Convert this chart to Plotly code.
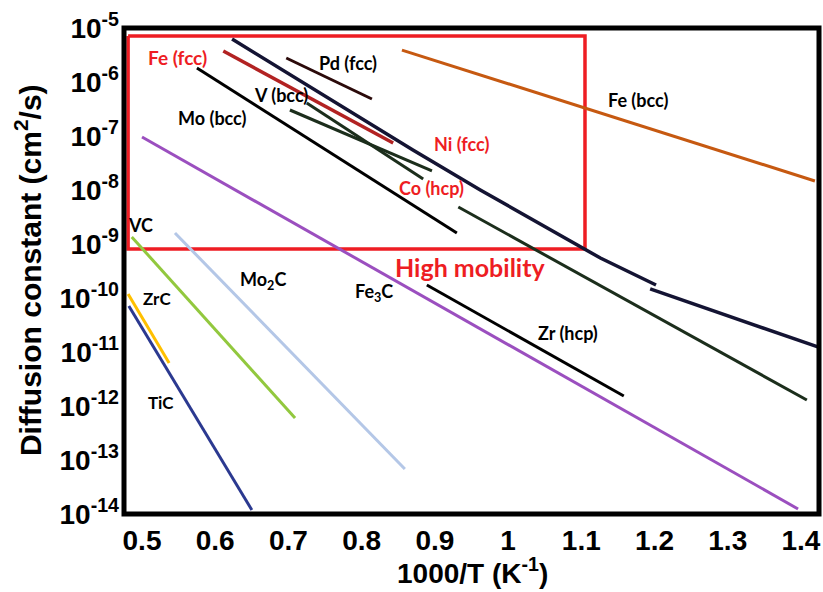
import plotly.graph_objects as go

# ---- data ----
fe_bcc_x = [0.855, 1.419]
fe_bcc_y = [3.9e-6, 1.47e-8]
ni_fcc_x = [0.623, 0.870, 0.962, 1.126, 1.202]
ni_fcc_y = [6.25e-6, 5.5e-8, 1.0e-8, 5.5e-10, 1.74e-10]
ni_fcc2_x = [1.194, 1.423]
ni_fcc2_y = [1.47e-10, 1.24e-11]
fe_fcc_x = [0.611, 0.843]
fe_fcc_y = [3.75e-6, 7.4e-8]
pd_fcc_x = [0.697, 0.814]
pd_fcc_y = [2.78e-6, 4.84e-7]
mo_bcc_x = [0.575, 0.930]
mo_bcc_y = [1.82e-6, 1.6e-9]
v_bcc_x = [0.725, 0.884]
v_bcc_y = [4.1e-7, 1.6e-8]
co_hcp_x = [0.702, 0.896]
co_hcp_y = [3.03e-7, 2.25e-8]
co_hcp2_x = [0.932, 1.408]
co_hcp2_y = [4.84e-9, 1.29e-12]
zr_hcp_x = [0.889, 1.158]
zr_hcp_y = [1.74e-10, 1.53e-12]
fe3c_x = [0.500, 1.396]
fe3c_y = [9.57e-8, 1.24e-14]
vc_x = [0.486, 0.709]
vc_y = [1.35e-9, 6.0e-13]
mo2c_x = [0.545, 0.859]
mo2c_y = [1.6e-9, 6.8e-14]
zrc_x = [0.481, 0.537]
zrc_y = [1.19e-10, 6.25e-12]
tic_x = [0.482, 0.650]
tic_y = [7.1e-11, 1.19e-14]

box_x = [0.481, 1.105]
box_y = [7.1e-6, 8.07e-10]

x_ticks = [0.5, 0.6, 0.7, 0.8, 0.9, 1.0, 1.1, 1.2, 1.3, 1.4]
x_ticktext = ["0.5", "0.6", "0.7", "0.8", "0.9", "1", "1.1", "1.2", "1.3", "1.4"]
y_exps = [-5, -6, -7, -8, -9, -10, -11, -12, -13, -14]

series = [
    ("Mo<sub>2</sub>C", mo2c_x, mo2c_y, "#B4C7E7", 3),
    ("VC", vc_x, vc_y, "#92C83E", 3),
    ("ZrC", zrc_x, zrc_y, "#FFC000", 3),
    ("TiC", tic_x, tic_y, "#2B3990", 3),
    ("Fe<sub>3</sub>C", fe3c_x, fe3c_y, "#9B4FBF", 3),
    ("Fe (bcc)", fe_bcc_x, fe_bcc_y, "#C65911", 3),
    ("Zr (hcp)", zr_hcp_x, zr_hcp_y, "#000000", 3),
    ("Mo (bcc)", mo_bcc_x, mo_bcc_y, "#000000", 3),
    ("Pd (fcc)", pd_fcc_x, pd_fcc_y, "#2B0A0A", 3),
    ("Co (hcp)", co_hcp_x, co_hcp_y, "#1C2E1C", 3),
    ("Co (hcp) low T", co_hcp2_x, co_hcp2_y, "#1C2E1C", 3),
    ("V (bcc)", v_bcc_x, v_bcc_y, "#1C2E1C", 3),
    ("Fe (fcc)", fe_fcc_x, fe_fcc_y, "#B22222", 3.5),
    ("Ni (fcc)", ni_fcc_x, ni_fcc_y, "#141433", 3.5),
    ("Ni (fcc) low T", ni_fcc2_x, ni_fcc2_y, "#141433", 3.5),
]

fig = go.Figure()

RED = "#EE1D23"
fig.add_trace(go.Scatter(
    x=[box_x[0], box_x[1], box_x[1], box_x[0], box_x[0]],
    y=[box_y[0], box_y[0], box_y[1], box_y[1], box_y[0]],
    mode="lines", line=dict(color=RED, width=3.5), hoverinfo="skip"))

for name, xs, ys, col, w in series:
    fig.add_trace(go.Scatter(x=xs, y=ys, mode="lines", name=name,
                             line=dict(color=col, width=w)))

LBL = "Lato"
labels = [
    ("Fe (fcc)", 0.549, -5.537, RED, 19),
    ("Pd (fcc)", 0.781, -5.648, "black", 18),
    ("V (bcc)", 0.690, -6.241, "black", 18),
    ("Mo (bcc)", 0.596, -6.667, "black", 18),
    ("Ni (fcc)", 0.937, -7.148, RED, 18),
    ("Co (hcp)", 0.896, -7.963, RED, 18),
    ("Fe (bcc)", 1.177, -6.333, "black", 18),
    ("High mobility", 0.949, -9.426, RED, 25),
    ("VC", 0.4986, -8.648, "black", 18),
    ("Mo<sub>2</sub>C", 0.665, -9.667, "black", 18),
    ("Fe<sub>3</sub>C", 0.817, -9.907, "black", 18),
    ("ZrC", 0.520, -10.0, "black", 17),
    ("TiC", 0.526, -11.926, "black", 17),
    ("Zr (hcp)", 1.082, -10.648, "black", 18),
]
for t, x, ly, c, s in labels:
    fig.add_annotation(x=x, y=ly, xref="x", yref="y", text=t, showarrow=False,
                       font=dict(family=LBL, size=s, color=c, weight="bold"),
                       xanchor="center", yanchor="middle")

fig.add_annotation(x=-0.138, y=0.502, xref="paper", yref="paper",
                   text="Diffusion constant (cm<sup>2</sup>/s)", showarrow=False,
                   textangle=-90, xanchor="center", yanchor="middle",
                   font=dict(family="Liberation Sans", size=30, color="black", weight="bold"))
fig.add_annotation(x=0.502, y=-0.117, xref="paper", yref="paper",
                   text="1000/T (K<sup>-1</sup>)", showarrow=False,
                   xanchor="center", yanchor="middle",
                   font=dict(family="Liberation Sans", size=28, color="black", weight="bold"))

# plot frame
fig.add_shape(type="rect", xref="paper", yref="paper", x0=0, x1=1, y0=0, y1=1,
              line=dict(color="black", width=5), layer="above")

axis_font = dict(family="Liberation Sans", size=28, color="black", weight="bold")
fig.update_xaxes(range=[0.4754, 1.4246], tickvals=x_ticks, ticktext=x_ticktext,
                 showgrid=False, zeroline=False, showline=False,
                 ticks="", tickfont=axis_font, ticklabelstandoff=7)
fig.update_yaxes(type="log", range=[-14, -5],
                 tickvals=[10.0 ** e for e in y_exps],
                 ticktext=[f"10<sup>{e}</sup>" for e in y_exps],
                 showgrid=False, zeroline=False, showline=False,
                 ticks="", tickfont=axis_font, ticklabelstandoff=4)

fig.update_layout(width=823, height=592, showlegend=False,
                  plot_bgcolor="white", paper_bgcolor="white",
                  margin=dict(l=124, r=4, t=28, b=78, autoexpand=False))

fig.write_html("out.html", config={"displayModeBar": False},
               post_script="document.body.style.margin='0';"
                           "document.body.style.overflow='hidden';")
